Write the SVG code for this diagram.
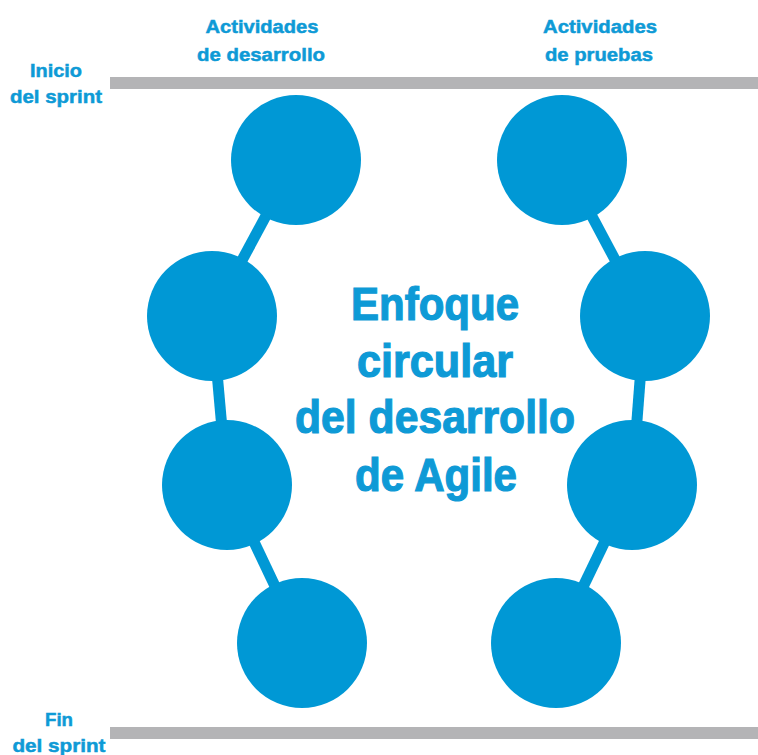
<svg xmlns="http://www.w3.org/2000/svg" width="758" height="755" viewBox="0 0 758 755">
<style>
.node{fill:#0098d5}
.conn{stroke:#0098d5;stroke-width:11;fill:none}
.bar{fill:#b4b4b6}
.lbl{font-family:"Liberation Sans",Arial,sans-serif;font-weight:bold;fill:#0e9ad6;stroke:#0e9ad6;text-anchor:middle}
.s{font-size:19px;stroke-width:0.5}
.b{font-size:46px;stroke-width:1.2}
</style>
<rect width="758" height="755" fill="#ffffff"/>
<rect class="bar" x="110" y="77" width="648" height="12"/>
<rect class="bar" x="110" y="727" width="648" height="12"/>
<g class="lbl s">
<text x="56" y="77" textLength="52" lengthAdjust="spacingAndGlyphs">Inicio</text>
<text x="56" y="103" textLength="92" lengthAdjust="spacingAndGlyphs">del sprint</text>
<text x="59" y="726" textLength="28" lengthAdjust="spacingAndGlyphs">Fin</text>
<text x="59" y="752" textLength="93" lengthAdjust="spacingAndGlyphs">del sprint</text>
<text x="262" y="33" textLength="113" lengthAdjust="spacingAndGlyphs">Actividades</text>
<text x="261" y="61" textLength="128" lengthAdjust="spacingAndGlyphs">de desarrollo</text>
<text x="600" y="33" textLength="114" lengthAdjust="spacingAndGlyphs">Actividades</text>
<text x="599" y="61" textLength="108" lengthAdjust="spacingAndGlyphs">de pruebas</text>
</g>
<g id="title" class="lbl b">
<text x="435" y="320" textLength="168" lengthAdjust="spacingAndGlyphs">Enfoque</text>
<text x="435" y="377" textLength="156" lengthAdjust="spacingAndGlyphs">circular</text>
<text x="435" y="433" textLength="280" lengthAdjust="spacingAndGlyphs">del desarrollo</text>
<text x="436" y="491" textLength="162" lengthAdjust="spacingAndGlyphs">de Agile</text>
</g>
<g id="connectors" class="conn">
<line x1="296" y1="160" x2="212" y2="316"/>
<line x1="212" y1="316" x2="227" y2="485"/>
<line x1="227" y1="485" x2="302" y2="643"/>
<line x1="562" y1="160" x2="645" y2="316"/>
<line x1="645" y1="316" x2="632" y2="485"/>
<line x1="632" y1="485" x2="556" y2="643"/>
</g>
<g id="dev1"><circle class="node" cx="296" cy="160" r="65"/></g>
<g id="dev2"><circle class="node" cx="212" cy="316" r="65"/></g>
<g id="dev3"><circle class="node" cx="227" cy="485" r="65"/></g>
<g id="dev4"><circle class="node" cx="302" cy="643" r="65"/></g>
<g id="test1"><circle class="node" cx="562" cy="160" r="65"/></g>
<g id="test2"><circle class="node" cx="645" cy="316" r="65"/></g>
<g id="test3"><circle class="node" cx="632" cy="485" r="65"/></g>
<g id="test4"><circle class="node" cx="556" cy="643" r="65"/></g>
</svg>
